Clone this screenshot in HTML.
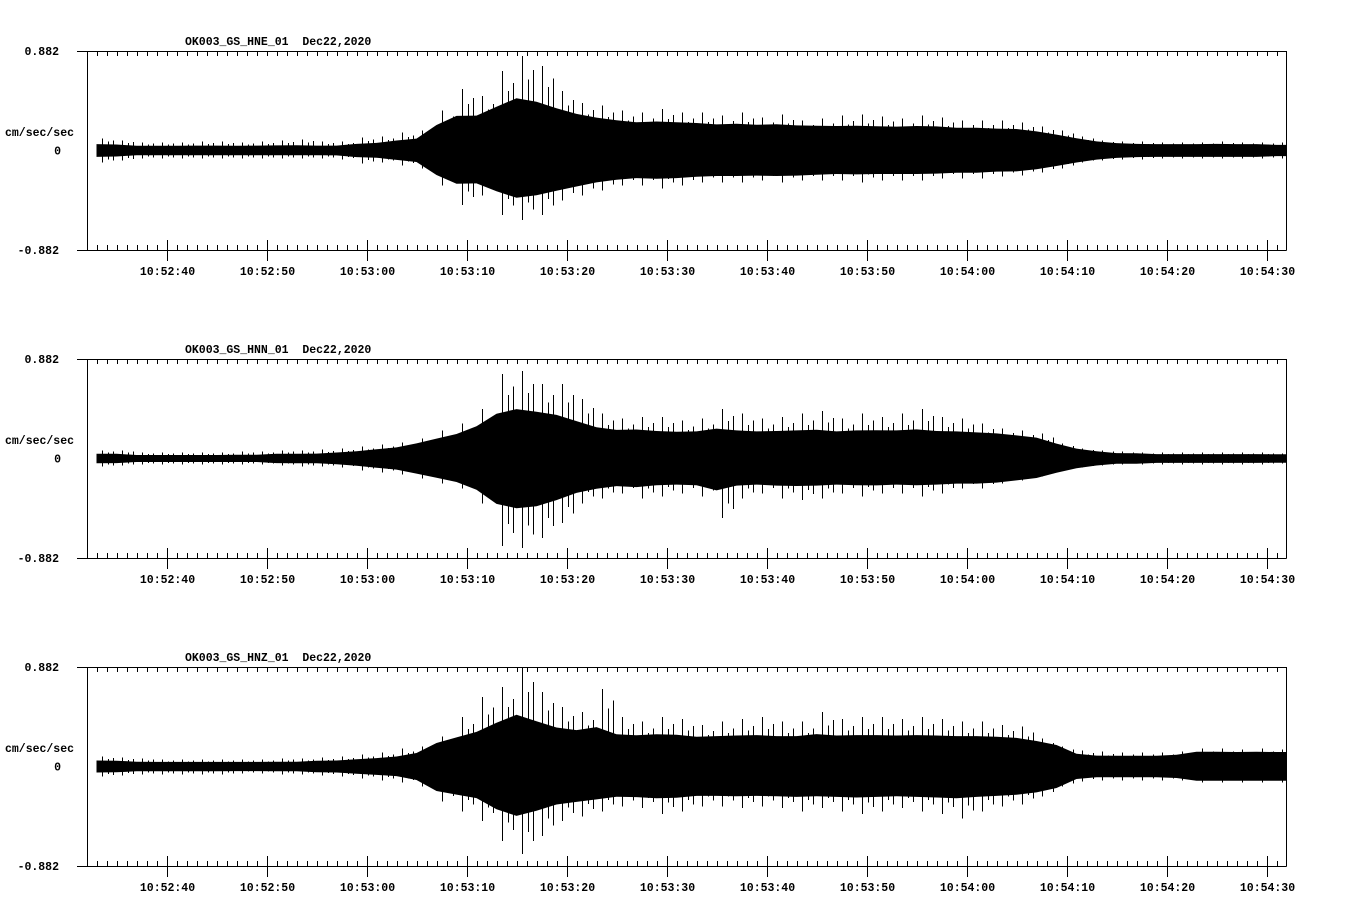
<!DOCTYPE html>
<html><head><meta charset="utf-8">
<style>
html,body{margin:0;padding:0;background:#fff;}
svg{display:block;}
text{font-family:"Liberation Mono","DejaVu Sans Mono",monospace;font-weight:bold;font-size:11.5px;fill:#000;}
</style></head>
<body>
<svg id="chart" width="1358" height="924" viewBox="0 0 1358 924" shape-rendering="crispEdges"></svg>
<script>
// Data: envelope samples every 2 s starting at 10:52:33 (values in cm/sec/sec)
const channels = ["OK003_GS_HNE_01", "OK003_GS_HNN_01", "OK003_GS_HNZ_01"];
const dateLabel = "Dec22,2020";
const fullScale = 0.882;
const startSec = 33;
const sampleStep = 2;
const tickLabels = ["10:52:40","10:52:50","10:53:00","10:53:10","10:53:20","10:53:30","10:53:40","10:53:50","10:54:00","10:54:10","10:54:20","10:54:30"];
const tickSeconds = [40,50,60,70,80,90,100,110,120,130,140,150];

const hneCore = [0.044,0.044,0.035,0.035,0.035,0.035,0.035,0.035,0.035,0.035,0.035,0.035,0.035,0.044,0.053,0.071,0.088,0.194,0.247,0.265,0.309,0.370,0.353,0.335,0.300,0.265,0.247,0.229,0.229,0.229,0.221,0.212,0.212,0.212,0.212,0.212,0.203,0.194,0.194,0.194,0.194,0.194,0.194,0.185,0.185,0.176,0.176,0.159,0.132,0.106,0.079,0.062,0.053,0.053,0.053,0.053,0.053,0.053,0.053,0.044];
const hneUp = [0.106,0.088,0.071,0.071,0.071,0.079,0.079,0.071,0.079,0.088,0.097,0.079,0.079,0.115,0.123,0.159,0.176,0.353,0.547,0.485,0.706,0.838,0.750,0.529,0.423,0.397,0.353,0.335,0.370,0.335,0.335,0.309,0.335,0.291,0.318,0.265,0.282,0.309,0.318,0.300,0.282,0.309,0.291,0.265,0.265,0.265,0.247,0.212,0.176,0.123,0.088,0.079,0.079,0.071,0.071,0.071,0.079,0.071,0.071,0.071];
const hneDown = [0.106,0.088,0.071,0.071,0.071,0.071,0.071,0.071,0.071,0.071,0.071,0.071,0.079,0.115,0.106,0.132,0.159,0.309,0.485,0.397,0.573,0.617,0.573,0.441,0.397,0.353,0.309,0.309,0.335,0.309,0.282,0.282,0.282,0.265,0.282,0.265,0.265,0.265,0.282,0.265,0.265,0.265,0.247,0.247,0.247,0.229,0.221,0.194,0.159,0.106,0.088,0.079,0.079,0.071,0.071,0.071,0.071,0.071,0.071,0.071];

const hnnCore = [0.035,0.035,0.026,0.026,0.026,0.026,0.026,0.026,0.026,0.035,0.035,0.035,0.044,0.053,0.071,0.088,0.123,0.159,0.194,0.247,0.309,0.353,0.353,0.318,0.282,0.247,0.229,0.229,0.212,0.212,0.212,0.221,0.212,0.212,0.212,0.212,0.212,0.212,0.212,0.221,0.212,0.212,0.212,0.212,0.212,0.212,0.194,0.176,0.132,0.088,0.062,0.044,0.044,0.035,0.035,0.035,0.035,0.035,0.035,0.035];
const hnnUp = [0.071,0.071,0.053,0.053,0.053,0.053,0.053,0.062,0.062,0.071,0.071,0.079,0.088,0.106,0.123,0.141,0.176,0.247,0.309,0.441,0.750,0.776,0.662,0.662,0.529,0.397,0.353,0.370,0.370,0.335,0.353,0.441,0.397,0.353,0.370,0.397,0.423,0.353,0.397,0.370,0.397,0.441,0.370,0.353,0.309,0.265,0.247,0.221,0.132,0.088,0.071,0.062,0.053,0.053,0.053,0.053,0.053,0.053,0.053,0.044];
const hnnDown = [0.071,0.062,0.053,0.053,0.053,0.053,0.053,0.053,0.053,0.062,0.071,0.071,0.079,0.106,0.123,0.141,0.176,0.221,0.265,0.397,0.776,0.794,0.706,0.573,0.397,0.353,0.309,0.353,0.335,0.309,0.335,0.529,0.353,0.309,0.353,0.370,0.353,0.309,0.335,0.309,0.309,0.335,0.309,0.265,0.265,0.221,0.194,0.159,0.106,0.079,0.062,0.053,0.053,0.053,0.053,0.053,0.053,0.053,0.053,0.044];

const hnzCore = [0.044,0.044,0.035,0.035,0.035,0.035,0.035,0.035,0.035,0.035,0.035,0.044,0.044,0.053,0.062,0.071,0.106,0.194,0.212,0.229,0.309,0.353,0.335,0.300,0.282,0.265,0.247,0.247,0.247,0.247,0.238,0.238,0.238,0.238,0.238,0.238,0.238,0.238,0.238,0.238,0.238,0.238,0.238,0.238,0.238,0.238,0.229,0.221,0.194,0.106,0.088,0.088,0.088,0.088,0.097,0.123,0.123,0.123,0.123,0.123];
const hnzUp = [0.088,0.079,0.071,0.062,0.062,0.062,0.062,0.062,0.062,0.071,0.071,0.079,0.088,0.106,0.123,0.159,0.176,0.265,0.441,0.617,0.706,0.882,0.662,0.529,0.485,0.688,0.441,0.397,0.441,0.423,0.370,0.397,0.423,0.441,0.397,0.397,0.485,0.423,0.441,0.441,0.423,0.441,0.423,0.397,0.397,0.370,0.353,0.247,0.176,0.141,0.132,0.123,0.123,0.123,0.132,0.159,0.159,0.150,0.159,0.150];
const hnzDown = [0.088,0.079,0.071,0.071,0.071,0.071,0.071,0.062,0.062,0.071,0.071,0.079,0.088,0.106,0.123,0.141,0.176,0.309,0.397,0.485,0.662,0.776,0.617,0.485,0.441,0.397,0.353,0.370,0.423,0.397,0.353,0.353,0.370,0.353,0.370,0.397,0.370,0.397,0.423,0.397,0.370,0.397,0.423,0.459,0.397,0.353,0.335,0.265,0.176,0.132,0.123,0.123,0.123,0.123,0.123,0.141,0.141,0.141,0.141,0.141];

const coreSets = [hneCore, hnnCore, hnzCore];
const upSets = [hneUp, hnnUp, hnzUp];
const downSets = [hneDown, hnnDown, hnzDown];

const NS = "http://www.w3.org/2000/svg";
const svg = document.getElementById('chart');
const plotLeft = 87, plotRight = 1286, plotH = 199;
const panelTops = [51, 359, 667];
const pxPerSec = 10, x0 = 96.5 - startSec * pxPerSec;
function xScale(sec){ return x0 + sec * pxPerSec; }

function mk(tag, attrs, parent){
  const e = document.createElementNS(NS, tag);
  for (const k in attrs) e.setAttribute(k, attrs[k]);
  (parent || svg).appendChild(e);
  return e;
}

channels.forEach((ch, p) => {
  const top = panelTops[p], bottom = top + plotH, zero = top + plotH / 2;
  const yScale = v => zero - v / fullScale * (plotH / 2);
  const g = mk('g', {});
  
  

  const core = coreSets[p], up = upSets[p], down = downSets[p];
  const n = core.length;
  const xs = core.map((_, i) => xScale(startSec + i * sampleStep));

  function band(fu, fd, name){
    let tp = [], bp = [];
    for (let i = 0; i < n; i++) { tp.push([xs[i], yScale(fu(i))]); bp.push([xs[i], yScale(-fd(i))]); }
    tp.push([plotRight, yScale(fu(n - 1))]); bp.push([plotRight, yScale(-fd(n - 1))]);
    const pts = tp.concat(bp.reverse()).map(q => q[0].toFixed(1) + ',' + q[1].toFixed(1)).join(' ');
    const e = mk('polygon', {points: pts, fill: '#000', 'shape-rendering': 'auto'}, g);
    
    
  }
  band(i => core[i] * 0.8 + up[i] * 0.2, i => core[i] * 0.8 + down[i] * 0.2, 'waveform-envelope');

  // peak spikes
  let d = '';
  const offs = [[5, 1.0], [11, 0.75], [16, 0.85]];
  for (let i = 0; i < n; i++) {
    offs.forEach(o => {
      const xr = xs[i] + o[0];
      if (xr >= plotRight - 1) return;
      const x = Math.round(xr) + 0.5;
      d += `M${x} ${yScale(up[i] * o[1]).toFixed(1)} V${yScale(-down[i] * o[1]).toFixed(1)} `;
    });
  }
  const sp = mk('path', {d: d, stroke: '#000', 'stroke-width': 1, fill: 'none'}, g);
  
  

  const frame = mk('path', {d: `M${plotLeft}.5 ${bottom}.5 V${top}.5 H${plotRight}.5 V${bottom}.5 M77 ${bottom}.5 H${plotRight}.5 M77 ${top}.5 H${plotLeft} M77 ${zero}.5 H${plotLeft}`, stroke: '#000', fill: 'none'}, g);
  
  

  let td = '';
  for (let s = startSec; xScale(s) < plotRight; s++) {
    const x = Math.round(xScale(s)) + 0.5;
    td += `M${x} ${top} v5 `;
    if (tickSeconds.indexOf(s) >= 0) td += `M${x} ${bottom - 10} v21 `;
    else td += `M${x} ${bottom - 5} v5 `;
  }
  const ticks = mk('path', {d: td, stroke: '#000', fill: 'none'}, g);
  
  

  tickLabels.forEach((lab, k) => {
    const t = mk('text', {x: Math.round(xScale(tickSeconds[k])) + 0.5, y: bottom + 25, 'text-anchor': 'middle'}, g);
    t.textContent = lab;
    
    
  });

  const title = mk('text', {x: 185, y: top - 6}, g);
  title.textContent = ch + '\u00a0\u00a0' + dateLabel;
  
  

  const yl = [[fullScale.toFixed(3), top + 4], ['0', zero + 4], ['-' + fullScale.toFixed(3), bottom + 4]];
  yl.forEach((a, k) => {
    const t = mk('text', {x: k === 1 ? 61 : 59, y: a[1], 'text-anchor': 'end'}, g);
    t.textContent = a[0];
    
    
  });
  const unit = mk('text', {x: 5, y: top + 85}, g);
  unit.textContent = 'cm/sec/sec';
  
  
});
</script>
</body></html>
